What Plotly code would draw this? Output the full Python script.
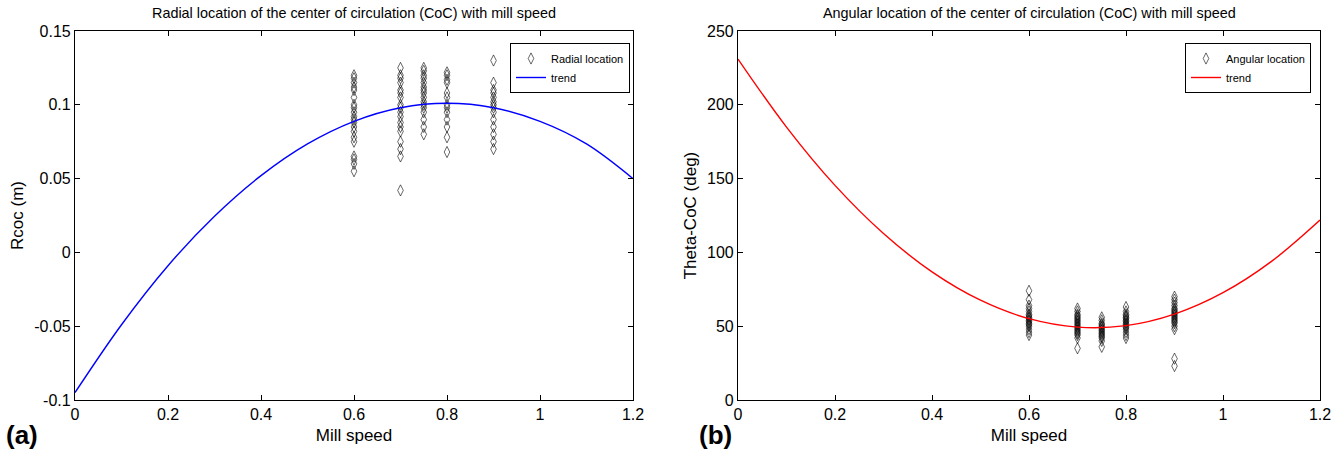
import plotly.graph_objects as go
from plotly.subplots import make_subplots

# --- panel (a): radial location
radial_speed = ([0.6] * 20 + [0.7] * 18 + [0.75] * 16 + [0.8] * 13 + [0.9] * 14)
radial_value = [
    0.120, 0.118, 0.115, 0.112, 0.110, 0.105, 0.100, 0.098, 0.095, 0.092,
    0.090, 0.088, 0.085, 0.082, 0.078, 0.075, 0.065, 0.063, 0.060, 0.055,
    0.125, 0.120, 0.118, 0.115, 0.110, 0.108, 0.105, 0.100, 0.098, 0.095,
    0.092, 0.088, 0.085, 0.082, 0.075, 0.070, 0.065, 0.042,
    0.125, 0.123, 0.120, 0.118, 0.115, 0.112, 0.110, 0.108, 0.105, 0.102,
    0.100, 0.098, 0.095, 0.090, 0.085, 0.080,
    0.122, 0.120, 0.117, 0.115, 0.108, 0.105, 0.100, 0.098, 0.095, 0.090,
    0.085, 0.078, 0.068,
    0.130, 0.115, 0.110, 0.108, 0.105, 0.102, 0.100, 0.098, 0.095, 0.090,
    0.085, 0.080, 0.075, 0.070,
]
trend_speed = [0.0, 0.1, 0.2, 0.3, 0.4, 0.5, 0.6, 0.7, 0.8, 0.9, 1.0, 1.1, 1.2]
radial_trend = [-0.095, -0.049, -0.009, 0.0245, 0.052, 0.0735, 0.0888,
                0.098, 0.101, 0.098, 0.0888, 0.0735, 0.050]

# --- panel (b): angular location
angular_speed = ([0.6] * 17 + [0.7] * 19 + [0.75] * 15 + [0.8] * 16 + [0.9] * 19)
angular_value = [
    74, 68, 64, 62, 60, 58, 57, 56, 55, 54, 53, 52, 51, 50, 48, 46, 44,
    62, 60, 58, 57, 56, 55, 54, 53, 52, 51, 50, 49, 48, 47, 46, 45, 44, 42, 35,
    56, 54, 52, 51, 50, 49, 48, 47, 46, 45, 44, 43, 42, 40, 36,
    63, 60, 58, 57, 56, 55, 54, 53, 52, 51, 50, 49, 48, 46, 44, 42,
    70, 68, 66, 64, 62, 61, 60, 59, 58, 57, 56, 55, 54, 53, 52, 50, 48, 28, 23,
]
angular_trend = [231, 184.9, 145.4, 112.8, 86.8, 67.6, 55.1,
                 49.4, 50.4, 58.2, 72.7, 93.9, 121.9]

x_ticks = [0, 0.2, 0.4, 0.6, 0.8, 1, 1.2]
x_ticktext = ['0', '0.2', '0.4', '0.6', '0.8', '1', '1.2']
r_ticks = [-0.1, -0.05, 0, 0.05, 0.1, 0.15]
r_ticktext = ['-0.1', '-0.05', '0', '0.05', '0.1', '0.15']
a_ticks = [0, 50, 100, 150, 200, 250]

W, H = 1344, 452
FONT = 'Liberation Sans, Arial, sans-serif'


def px(v):
    return v / W


def py(v):
    return 1 - v / H


fig = make_subplots(rows=1, cols=2)

marker = dict(symbol='diamond-tall-open', size=8, color='black',
              line=dict(color='#222', width=0.6))

fig.add_trace(go.Scatter(x=radial_speed, y=radial_value, mode='markers',
                         name='Radial location', marker=marker,
                         legend='legend'), row=1, col=1)
fig.add_trace(go.Scatter(x=trend_speed, y=radial_trend, mode='lines',
                         name='trend', line=dict(color='#0000ff', width=1.4, shape='spline'),
                         legend='legend'), row=1, col=1)
fig.add_trace(go.Scatter(x=angular_speed, y=angular_value, mode='markers',
                         name='Angular location', marker=marker,
                         legend='legend2'), row=1, col=2)
fig.add_trace(go.Scatter(x=trend_speed, y=angular_trend, mode='lines',
                         name='trend', line=dict(color='#ff0000', width=1.4, shape='spline'),
                         legend='legend2'), row=1, col=2)

axis_style = dict(showline=True, linecolor='black', linewidth=1.2, mirror='ticks',
                  ticks='inside', ticklen=5, tickcolor='black', showgrid=False,
                  zeroline=False, automargin=False,
                  tickfont=dict(size=16, color='black', family=FONT))

fig.update_xaxes(axis_style)
fig.update_yaxes(axis_style)

ydom = [py(400), py(31)]
title_font = dict(size=17, family=FONT)
legend_style = dict(xanchor='right', yanchor='top', bordercolor='black', borderwidth=1,
                    bgcolor='white', font=dict(size=11, family=FONT, color='black'),
                    itemwidth=30, tracegroupgap=0)
fig.update_layout(
    xaxis=dict(domain=[px(75), px(633)], range=[0, 1.2], tickvals=x_ticks, ticktext=x_ticktext,
               title=dict(text='Mill speed', standoff=6, font=title_font)),
    yaxis=dict(domain=ydom, range=[-0.1, 0.15], tickvals=r_ticks, ticktext=r_ticktext,
               title=dict(text='Rcoc (m)', standoff=6, font=title_font)),
    xaxis2=dict(domain=[px(738), px(1320)], range=[0, 1.2], tickvals=x_ticks, ticktext=x_ticktext,
                title=dict(text='Mill speed', standoff=6, font=title_font)),
    yaxis2=dict(domain=ydom, range=[0, 250], tickvals=a_ticks,
                title=dict(text='Theta-CoC (deg)', standoff=6, font=title_font)),
    legend=dict(x=px(630), y=py(43), **legend_style),
    legend2=dict(x=px(1311), y=py(43), **legend_style),
    annotations=[
        dict(text='Radial location of the center of circulation (CoC) with mill speed',
             x=px(354), y=py(13), xref='paper', yref='paper', showarrow=False,
             xanchor='center', yanchor='middle',
             font=dict(size=14.4, family=FONT, color='black')),
        dict(text='Angular location of the center of circulation (CoC) with mill speed',
             x=px(1029), y=py(13), xref='paper', yref='paper', showarrow=False,
             xanchor='center', yanchor='middle',
             font=dict(size=14.4, family=FONT, color='black')),
        dict(text='<b>(a)</b>', x=px(4), y=py(435), xref='paper', yref='paper',
             xanchor='left', yanchor='middle', showarrow=False,
             font=dict(size=26, family=FONT, color='black')),
        dict(text='<b>(b)</b>', x=px(697), y=py(435), xref='paper', yref='paper',
             xanchor='left', yanchor='middle', showarrow=False,
             font=dict(size=26, family=FONT, color='black')),
    ],
    width=W, height=H,
    margin=dict(l=0, r=0, t=0, b=0),
    plot_bgcolor='white', paper_bgcolor='white',
    font=dict(family=FONT, color='black'),
)

# drop the default page margin so the figure fills the window exactly
fig.write_html("out.html", config={'displayModeBar': False},
               post_script="document.body.style.margin='0';")
